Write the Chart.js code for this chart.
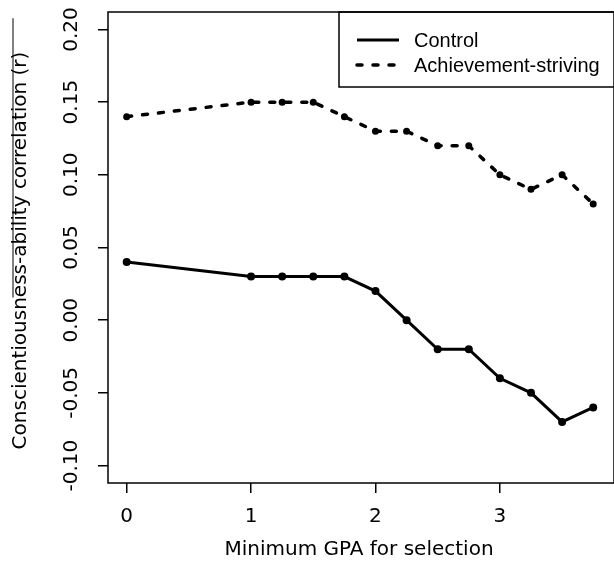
<!DOCTYPE html>
<html lang="en">
<head>
  <meta charset="UTF-8" />
  <title>Conscientiousness-ability correlation by GPA cutoff</title>
  <script src="https://cdn.jsdelivr.net/npm/chart.js@4.4.1/dist/chart.umd.min.js"></script>
  <style>
    html, body { margin: 0; padding: 0; background: #fff; }
    canvas { display: block; }
  </style>
</head>
<body>
  <canvas id="lineChart" width="614" height="564"></canvas>

  <script>
    const gpaCutoffs = [0, 1, 1.25, 1.5, 1.75, 2, 2.25, 2.5, 2.75, 3, 3.25, 3.5, 3.75]
    const controlR = [0.04, 0.03, 0.03, 0.03, 0.03, 0.02, 0.00, -0.02, -0.02, -0.04, -0.05, -0.07, -0.06]
    const achievementR = [0.14, 0.15, 0.15, 0.15, 0.14, 0.13, 0.13, 0.12, 0.12, 0.10, 0.09, 0.10, 0.08]
    const xTicks = [0, 1, 2, 3]
    const yTicks = [-0.10, -0.05, 0.00, 0.05, 0.10, 0.15, 0.20]
    const xTitle = 'Minimum GPA for selection'
    const yTitle = 'Conscientiousness-ability correlation (r)'

    const axisFont = { family: 'DejaVu Sans', size: 20 }
    const legendFont = '20px "Liberation Sans", Arial, sans-serif'

    function toPoints(values) {
      return gpaCutoffs.map((x, i) => ({ x: x, y: values[i] }))
    }

    // box round the plot, R style legend and the y title
    const frame = {
      id: 'frame',
      afterDraw(chart) {
        const { ctx, chartArea: a } = chart
        ctx.save()
        ctx.strokeStyle = '#000'
        ctx.lineWidth = 1.5
        ctx.strokeRect(a.left, a.top, a.right - a.left + 4, a.bottom - a.top)

        // legend
        const boxLeft = a.right - 271
        ctx.strokeRect(boxLeft, a.top, 290, 75)
        ctx.font = legendFont
        ctx.textBaseline = 'middle'
        ctx.fillStyle = '#000'
        chart.data.datasets.forEach((ds, i) => {
          const y = a.top + 28 + i * 25
          ctx.beginPath()
          ctx.lineWidth = ds.borderWidth
          ctx.lineCap = ds.borderDash ? 'round' : 'butt'
          ctx.setLineDash(ds.borderDash || [])
          ctx.moveTo(boxLeft + 18, y)
          ctx.lineTo(boxLeft + 60, y)
          ctx.stroke()
          ctx.setLineDash([])
          ctx.fillText(ds.label, boxLeft + 75, y + 1)
        })

        // y axis title, rotated
        const cy = (a.top + a.bottom) / 2 + 3
        ctx.font = axisFont.size + 'px "' + axisFont.family + '"'
        ctx.translate(21, cy)
        ctx.rotate(-Math.PI / 2)
        ctx.textAlign = 'center'
        ctx.fillText(yTitle, 0, 0)
        const w = ctx.measureText(yTitle).width
        const w1 = ctx.measureText('Conscientiousn').width
        ctx.lineWidth = 1
        ctx.beginPath()
        ctx.moveTo(-w / 2 + w1, -8)
        ctx.lineTo(w / 2 + 33, -8)
        ctx.stroke()
        ctx.restore()
      }
    }

    const ctx = document.getElementById('lineChart').getContext('2d')
    new Chart(ctx, {
      type: 'line',
      data: {
        datasets: [
          {
            label: 'Control',
            data: toPoints(controlR),
            borderColor: '#000',
            backgroundColor: '#000',
            borderWidth: 3,
            pointRadius: 4,
            pointBorderWidth: 0,
            tension: 0
          },
          {
            label: 'Achievement-striving',
            data: toPoints(achievementR),
            borderColor: '#000',
            backgroundColor: '#000',
            borderWidth: 3.5,
            borderDash: [5, 11],
            borderCapStyle: 'round',
            pointRadius: 3.5,
            pointBorderWidth: 0,
            tension: 0
          }
        ]
      },
      options: {
        responsive: false,
        animation: false,
        layout: { padding: { top: 12, right: 0, left: 0, bottom: 0 } },
        plugins: {
          legend: { display: false },
          tooltip: { enabled: false }
        },
        scales: {
          x: {
            type: 'linear',
            min: -0.15,
            max: 3.885,
            afterBuildTicks: s => { s.ticks = xTicks.map(v => ({ value: v })) },
            afterFit: s => { s.height = 81; s.paddingLeft = 0; s.paddingRight = 0 },
            ticks: { font: axisFont, color: '#000', padding: 12, callback: v => String(v) },
            grid: { drawOnChartArea: false, drawTicks: true, tickLength: 10, color: '#000', lineWidth: 1.5 },
            border: { display: false },
            title: { display: true, text: xTitle, font: axisFont, color: '#000', padding: { top: 0, bottom: 2 } }
          },
          y: {
            min: -0.112,
            max: 0.212,
            afterBuildTicks: s => { s.ticks = yTicks.map(v => ({ value: v })) },
            afterFit: s => { s.width = 108; s.paddingTop = 0; s.paddingBottom = 0 },
            ticks: {
              font: axisFont, color: '#000', padding: 0,
              minRotation: 90, maxRotation: 90, crossAlign: 'center',
              callback: v => v.toFixed(2)
            },
            grid: { drawOnChartArea: false, drawTicks: true, tickLength: 10, color: '#000', lineWidth: 1.5 },
            border: { display: false }
          }
        }
      },
      plugins: [frame]
    })
  </script>
</body>
</html>
